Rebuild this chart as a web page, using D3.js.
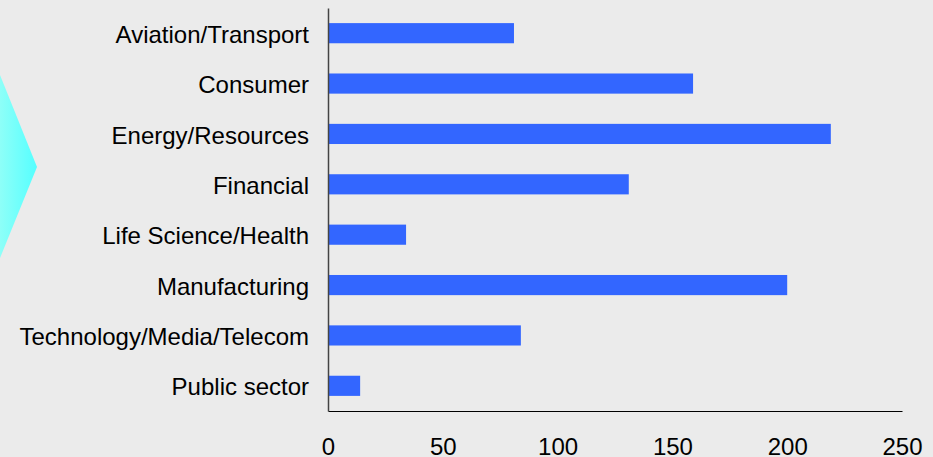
<!DOCTYPE html>
<html>
<head>
<meta charset="utf-8">
<script src="https://cdn.jsdelivr.net/npm/d3@7"></script>
<style>
  body { margin: 0; background: #ebebeb; }
  svg { display: block; }
  text { font-family: "Liberation Sans", Arial, sans-serif; fill: #000; }
</style>
</head>
<body>
<script>
var width = 933;
var height = 457;
var margin = {top: 8, right: 31, bottom: 46, left: 328};

// data
var sectors = ["Aviation/Transport", "Consumer", "Energy/Resources", "Financial",
    "Life Science/Health", "Manufacturing", "Technology/Media/Telecom", "Public sector"];
var counts = [81, 159, 219, 131, 34, 200, 84, 14];
var xTicks = [0, 50, 100, 150, 200, 250];

var innerWidth = width - margin.left - margin.right;
var innerHeight = height - margin.top - margin.bottom;

var data = sectors.map((s, i) => ({name: s, value: counts[i]}));

var svg = d3.select("body")
    .append("svg")
        .attr("width", width)
        .attr("height", height);

svg.append("rect")
    .attr("width", width)
    .attr("height", height)
    .attr("fill", "#ebebeb");

// cyan chevron on the left edge
var grad = svg.append("defs").append("linearGradient")
    .attr("id", "chev")
    .attr("x1", "0%").attr("x2", "100%");
grad.append("stop").attr("offset", "0%").attr("stop-color", "#9dfff6");
grad.append("stop").attr("offset", "100%").attr("stop-color", "#55ffff");

svg.append("path")
    .attr("d", "M-10,52 L0,75 L37,167 L0,258 L-10,280 Z")
    .attr("fill", "url(#chev)");

var g = svg.append("g")
    .attr("transform", "translate(" + margin.left + ", " + margin.top + ")");

// scales
var x = d3.scaleLinear()
    .domain([0, 250])
    .range([0, innerWidth]);

var y = d3.scaleBand()
    .domain(sectors)
    .range([0, innerHeight])
    .paddingInner(0.6)
    .paddingOuter(0.3);

// bars
g.selectAll("rect.bar")
    .data(data)
    .enter()
    .append("rect")
        .attr("class", "bar")
        .attr("fill", "#3366ff")
        .attr("x", 0)
        .attr("y", d => y(d.name))
        .attr("width", d => x(d.value))
        .attr("height", y.bandwidth());

// axes
var bottomAxis = d3.axisBottom(x)
    .tickValues(xTicks)
    .tickSize(0)
    .tickPadding(27);
var xg = g.append("g")
    .attr("transform", "translate(0, " + innerHeight + ")")
    .call(bottomAxis);
xg.select(".domain").attr("stroke", "#000").attr("stroke-width", 1.2);
xg.selectAll("text")
    .attr("font-size", 24)
    .attr("dy", "0.69em")
    .attr("font-family", "Liberation Sans, Arial, sans-serif");

var leftAxis = d3.axisLeft(y)
    .tickSize(0)
    .tickPadding(19);
var yg = g.append("g")
    .call(leftAxis);
yg.select(".domain").attr("stroke", "#444").attr("stroke-width", 1.5);
yg.selectAll("text")
    .attr("font-size", 24)
    .attr("dy", "0.4em")
    .attr("font-family", "Liberation Sans, Arial, sans-serif");
</script>
</body>
</html>
